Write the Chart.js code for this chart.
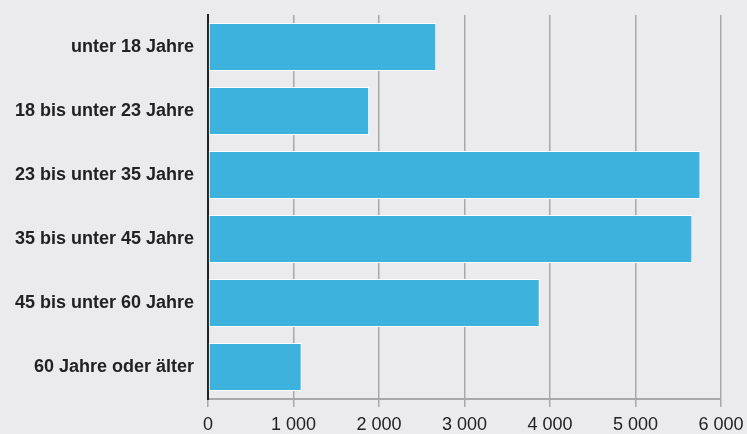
<!DOCTYPE html>
<html>
<head>
<meta charset="utf-8">
<script src="https://cdn.jsdelivr.net/npm/chart.js@4"></script>
<style>
  html, body { margin: 0; padding: 0; background: #ebebed; }
  #wrap { width: 747px; height: 434px; }
</style>
</head>
<body>
<div id="wrap"><canvas id="c" width="747" height="434"></canvas></div>
<script>
const categories = [
  "unter 18 Jahre",
  "18 bis unter 23 Jahre",
  "23 bis unter 35 Jahre",
  "35 bis unter 45 Jahre",
  "45 bis unter 60 Jahre",
  "60 Jahre oder älter"
];
const values = [2670, 1885, 5760, 5665, 3880, 1095];
const xTicks = [0, 1000, 2000, 3000, 4000, 5000, 6000];

function fmt(v) {
  return String(v).replace(/\B(?=(\d{3})+(?!\d))/g, " ");
}

const bgPlugin = {
  id: "bg",
  beforeDraw(chart) {
    const ctx = chart.ctx;
    ctx.save();
    ctx.fillStyle = "#ebebed";
    ctx.fillRect(0, 0, chart.width, chart.height);
    ctx.restore();
  }
};

new Chart(document.getElementById("c"), {
  type: "bar",
  data: {
    labels: categories,
    datasets: [{
      data: values,
      backgroundColor: "#3db2dd",
      borderColor: "#ffffff",
      borderWidth: 1,
      borderSkipped: false,
      barPercentage: 0.75,
      categoryPercentage: 1.0
    }]
  },
  options: {
    indexAxis: "y",
    responsive: false,
    animation: false,
    layout: { padding: { top: 15, right: 26, left: 0, bottom: 0 } },
    plugins: { legend: { display: false }, tooltip: { enabled: false } },
    scales: {
      x: {
        min: 0,
        max: 6000,
        afterBuildTicks(scale) {
          scale.ticks = xTicks.map(v => ({ value: v }));
        },
        afterFit(scale) {
          scale.height = 35;
          scale.paddingRight = 0;
          scale.paddingLeft = 0;
        },
        grid: {
          color: "#a8a8a8",
          lineWidth: 1.5,
          tickLength: 8,
          tickColor: "#a8a8a8"
        },
        border: { display: true, color: "#a8a8a8", width: 2 },
        ticks: {
          padding: 7,
          color: "#222222",
          font: { family: "'Liberation Sans', Arial, Helvetica, sans-serif", size: 18 },
          maxRotation: 0,
          callback: (v) => fmt(v)
        }
      },
      y: {
        afterFit(scale) {
          scale.width = 208;
          scale.paddingTop = 0;
          scale.paddingBottom = 0;
        },
        grid: { display: true, color: "rgba(0,0,0,0)", drawTicks: false },
        border: { display: true, color: "#222222", width: 2 },
        ticks: {
          padding: 14,
          color: "#222222",
          font: { family: "'Liberation Sans', Arial, Helvetica, sans-serif", size: 18, weight: "bold" }
        }
      }
    }
  },
  plugins: [bgPlugin]
});
</script>
</body>
</html>
